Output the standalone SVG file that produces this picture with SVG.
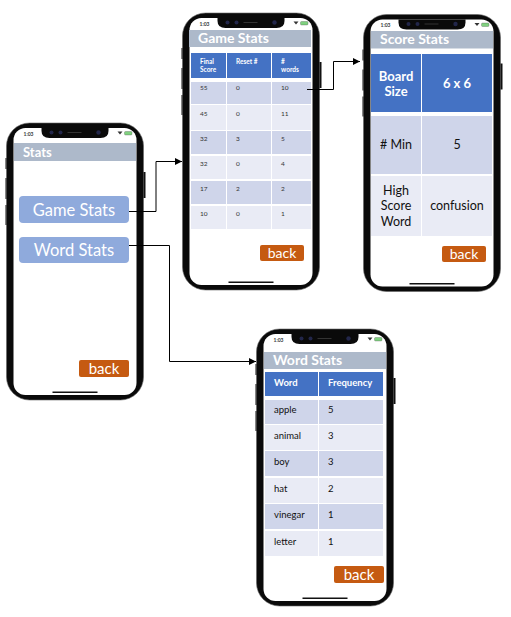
<svg xmlns="http://www.w3.org/2000/svg" xmlns:xlink="http://www.w3.org/1999/xlink" width="511" height="617" viewBox="0 0 511 617">
<style>
text{font-family:Lato,"Open Sans","Liberation Sans",sans-serif}
.title{font-weight:700;fill:#fff}
.btn{fill:#8faadc}
.back{fill:#c55a11}
.wt{fill:#fff}
.m{text-anchor:middle}
.hd{fill:#4472c4}
.r1{fill:#cfd5ea}
.r2{fill:#e9ebf5}
.hb{fill:#adb9ca}
.h6{font-size:6.5px;font-weight:700;fill:#fff}
.c6{font-size:6.5px;fill:#333}
.h8{font-size:9.5px;font-weight:700;fill:#fff}
.c8{font-size:9.5px;fill:#111}
.c11{font-size:12.5px;fill:#111}
.b11{font-size:13px;font-weight:700;fill:#fff}
.line{fill:none;stroke:#000;stroke-width:1}
</style>
<defs>
<marker id="arr" markerWidth="8" markerHeight="8" refX="7" refY="3.5" orient="auto" markerUnits="userSpaceOnUse"><path d="M0,0L7,3.5L0,7z" fill="#000"/></marker>
<g id="phone">
<rect x="-1" y="35" width="4" height="11" fill="#111"/>
<rect x="-1" y="55" width="4" height="21" fill="#111"/>
<rect x="-1" y="82" width="4" height="20" fill="#111"/>
<rect x="135" y="49" width="4" height="26" fill="#111"/>
<rect x="0" y="0" width="137" height="277" rx="23" fill="#0a0a0a" stroke="#666" stroke-width="0.6"/>
<rect x="7" y="5" width="123" height="267" rx="12" fill="#fff"/>
<path d="M35,5H102V8Q102,15 94,15H43Q35,15 35,8Z" fill="#0a0a0a"/>
<circle cx="45" cy="9.500" r="2" fill="#22264a"/><circle cx="54" cy="9.500" r="2" fill="#22264a"/><circle cx="92" cy="9.500" r="2.200" fill="#22264a"/>
<rect x="61" y="9" width="14" height="1" fill="#333"/>
<rect x="46" y="268.500" width="45" height="1.500" fill="#111"/>
<path d="M111,8.500h5l-2.500,3z" fill="#333"/>
<rect x="118" y="8.500" width="7.500" height="3.500" rx="1" fill="#7fd07f" stroke="#444" stroke-width="0.3"/>
<text x="17" y="12.500" fill="#333" style="font-size:5px;font-weight:700">1:03</text>
</g>
</defs>

<g id="stats-screen">
<use href="#phone" xlink:href="#phone" x="6.500" y="123"/>
<rect class="hb" x="14" y="143" width="122" height="18"/>
<text class="title" x="23" y="156.500" font-size="13">Stats</text>
<rect class="btn" x="19" y="196" width="110" height="27" rx="4"/>
<text class="wt m" x="74" y="215.500" font-size="16.500">Game Stats</text>
<rect class="btn" x="19" y="237" width="110" height="26" rx="4"/>
<text class="wt m" x="74" y="255.500" font-size="16.500">Word Stats</text>
<rect class="back" x="79" y="360" width="50" height="17" rx="2"/>
<text class="wt m" x="104" y="373.500" font-size="15">back</text>
</g>

<g id="game-stats-screen">
<use href="#phone" xlink:href="#phone" x="182.500" y="13"/>
<rect class="hb" x="189" y="30" width="122" height="17"/>
<text class="title" x="198" y="43" font-size="14">Game Stats</text>
<g>
<rect class="hd" x="191" y="53" width="35" height="25"/><rect class="hd" x="227" y="53" width="44" height="25"/><rect class="hd" x="272" y="53" width="39" height="25"/>
<rect class="r1" x="191" y="82" width="35" height="22"/><rect class="r1" x="227" y="82" width="44" height="22"/><rect class="r1" x="272" y="82" width="39" height="22"/>
<rect class="r2" x="191" y="105" width="35" height="25"/><rect class="r2" x="227" y="105" width="44" height="25"/><rect class="r2" x="272" y="105" width="39" height="25"/>
<rect class="r1" x="191" y="131" width="35" height="23"/><rect class="r1" x="227" y="131" width="44" height="23"/><rect class="r1" x="272" y="131" width="39" height="23"/>
<rect class="r2" x="191" y="156" width="35" height="23"/><rect class="r2" x="227" y="156" width="44" height="23"/><rect class="r2" x="272" y="156" width="39" height="23"/>
<rect class="r1" x="191" y="181" width="35" height="23"/><rect class="r1" x="227" y="181" width="44" height="23"/><rect class="r1" x="272" y="181" width="39" height="23"/>
<rect class="r2" x="191" y="206" width="35" height="23"/><rect class="r2" x="227" y="206" width="44" height="23"/><rect class="r2" x="272" y="206" width="39" height="23"/>
</g>
<text class="h6" x="200" y="64">Final</text><text class="h6" x="200" y="72">Score</text>
<text class="h6" x="236" y="64">Reset #</text>
<text class="h6" x="281" y="64">#</text><text class="h6" x="281" y="72">words</text>
<text class="c6" x="200" y="90">55</text><text class="c6" x="236" y="90">0</text><text class="c6" x="281" y="90">10</text>
<text class="c6" x="200" y="116">45</text><text class="c6" x="236" y="116">0</text><text class="c6" x="281" y="116">11</text>
<text class="c6" x="200" y="141">32</text><text class="c6" x="236" y="141">3</text><text class="c6" x="281" y="141">5</text>
<text class="c6" x="200" y="166">32</text><text class="c6" x="236" y="166">0</text><text class="c6" x="281" y="166">4</text>
<text class="c6" x="200" y="191">17</text><text class="c6" x="236" y="191">2</text><text class="c6" x="281" y="191">2</text>
<text class="c6" x="200" y="216">10</text><text class="c6" x="236" y="216">0</text><text class="c6" x="281" y="216">1</text>
<rect class="back" x="260" y="245" width="44" height="16" rx="2"/>
<text class="wt m" x="282" y="257.500" font-size="14">back</text>
</g>

<g id="score-stats-screen">
<use href="#phone" xlink:href="#phone" x="363.500" y="14.500"/>
<rect class="hb" x="371" y="31" width="122" height="17.500"/>
<text class="title" x="380" y="44" font-size="14">Score Stats</text>
<rect class="hd" x="371" y="54" width="50" height="58"/><rect class="hd" x="422" y="54" width="70" height="58"/>
<rect class="r1" x="371" y="116" width="50" height="58"/><rect class="r1" x="422" y="116" width="70" height="58"/>
<rect class="r2" x="371" y="176" width="50" height="60"/><rect class="r2" x="422" y="176" width="70" height="60"/>
<text class="b11 m" x="396" y="81">Board</text><text class="b11 m" x="396" y="96">Size</text>
<text class="b11 m" x="457" y="88">6 x 6</text>
<text class="c11 m" x="396" y="149"># Min</text>
<text class="c11 m" x="457" y="149">5</text>
<text class="c11 m" x="396" y="195">High</text><text class="c11 m" x="396" y="210">Score</text><text class="c11 m" x="396" y="226">Word</text>
<text class="c11 m" x="457" y="210">confusion</text>
<rect class="back" x="442" y="246" width="44" height="16" rx="2"/>
<text class="wt m" x="464" y="258.500" font-size="14">back</text>
</g>

<g id="word-stats-screen">
<use href="#phone" xlink:href="#phone" x="256.500" y="329"/>
<rect class="hb" x="264" y="352" width="122" height="17"/>
<text class="title" x="273" y="365" font-size="14">Word Stats</text>
<rect class="hd" x="265" y="372" width="53" height="24"/><rect class="hd" x="319" y="372" width="64" height="24"/>
<rect class="r1" x="265" y="400" width="53" height="24"/><rect class="r1" x="319" y="400" width="64" height="24"/>
<rect class="r2" x="265" y="425" width="53" height="25"/><rect class="r2" x="319" y="425" width="64" height="25"/>
<rect class="r1" x="265" y="451" width="53" height="25"/><rect class="r1" x="319" y="451" width="64" height="25"/>
<rect class="r2" x="265" y="478" width="53" height="25"/><rect class="r2" x="319" y="478" width="64" height="25"/>
<rect class="r1" x="265" y="504" width="53" height="25"/><rect class="r1" x="319" y="504" width="64" height="25"/>
<rect class="r2" x="265" y="531" width="53" height="25"/><rect class="r2" x="319" y="531" width="64" height="25"/>
<text class="h8" x="274" y="386">Word</text><text class="h8" x="328" y="386">Frequency</text>
<text class="c8" x="274" y="413">apple</text><text class="c8" x="328" y="413">5</text>
<text class="c8" x="274" y="439">animal</text><text class="c8" x="328" y="439">3</text>
<text class="c8" x="274" y="465">boy</text><text class="c8" x="328" y="465">3</text>
<text class="c8" x="274" y="492">hat</text><text class="c8" x="328" y="492">2</text>
<text class="c8" x="274" y="518">vinegar</text><text class="c8" x="328" y="518">1</text>
<text class="c8" x="274" y="545">letter</text><text class="c8" x="328" y="545">1</text>
<rect class="back" x="334" y="566" width="50" height="17" rx="2"/>
<text class="wt m" x="359" y="580" font-size="15">back</text>
</g>

<g id="connectors">
<path class="line" d="M129,211.500H156V161.500H182" marker-end="url(#arr)"/>
<path class="line" d="M129,245.500H169.500V361.500H256" marker-end="url(#arr)"/>
<path class="line" d="M307,89.500H333.500V61.500H360" marker-end="url(#arr)"/>
</g>
</svg>
